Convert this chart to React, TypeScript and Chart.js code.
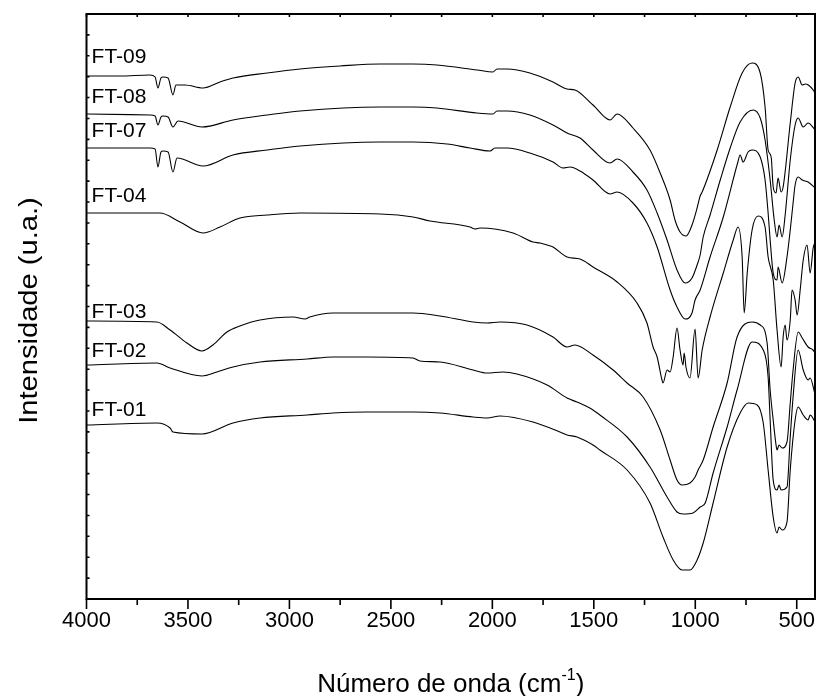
import React, { useEffect, useRef } from 'react';
import { Chart, registerables } from 'chart.js';

Chart.register(...registerables);

// [wavenumber (cm-1), intensity (u.a.)]
const ft09 = [[4000,523],[3835,523],[3687,524],[3662,522],[3648,511],[3633,521],[3623,522],[3598,521],[3574,504],[3559,514],[3515,514],[3426,511],[3342,517],[3278,521],[3110,526],[2948,530],[2751,533],[2553,535],[2391,535],[2273,534],[2076,529],[1997,527],[1977,530],[1928,530],[1815,526],[1701,517],[1632,510],[1593,509],[1504,494],[1420,479],[1385,485],[1307,471],[1223,449],[1173,426],[1124,399],[1100,379],[1075,367],[1045,363],[1016,374],[991,391],[976,403],[966,407],[892,449],[828,492],[769,526],[720,536],[680,526],[656,492],[641,449],[626,442],[616,412],[602,406],[592,421],[577,407],[567,412],[532,476],[508,516],[493,522],[473,514],[458,515],[443,514],[419,509],[410,506]];
const ft08 = [[4000,485],[3687,484],[3662,483],[3648,474],[3633,482],[3623,483],[3598,482],[3574,472],[3549,478],[3431,472],[3278,479],[3110,484],[2948,488],[2553,492],[2391,492],[2273,491],[2076,486],[1997,485],[1977,488],[1928,488],[1815,484],[1701,474],[1632,466],[1568,461],[1504,449],[1420,436],[1385,440],[1307,427],[1238,409],[1188,386],[1139,359],[1090,329],[1050,316],[1016,321],[991,334],[976,344],[961,362],[927,384],[877,419],[828,451],[779,477],[715,489],[680,481],[656,459],[631,419],[611,379],[597,362],[587,374],[572,362],[557,384],[532,439],[508,474],[493,481],[468,472],[444,476],[409,469]];
const ft07 = [[4000,451],[3687,451],[3662,450],[3648,432],[3633,447],[3623,448],[3598,447],[3574,427],[3554,441],[3426,433],[3278,444],[3110,449],[2948,453],[2553,457],[2391,457],[2223,455],[2110,451],[2011,448],[1987,451],[1928,451],[1815,446],[1701,437],[1652,431],[1617,432],[1568,428],[1504,419],[1420,405],[1385,407],[1307,396],[1238,376],[1188,352],[1124,309],[1090,292],[1050,280],[1016,286],[1001,299],[976,309],[927,342],[862,382],[790,437],[779,444],[764,437],[740,447],[720,449],[680,442],[656,419],[641,386],[631,359],[616,326],[597,319],[592,332],[572,316],[548,342],[532,369],[518,396],[508,414],[493,422],[473,419],[444,417],[409,411]];
const ft04 = [[4000,386],[3638,386],[3539,377],[3426,366],[3342,372],[3244,381],[3110,384],[2948,386],[2553,385],[2391,382],[2307,378],[2110,372],[2085,370],[2061,371],[1898,366],[1800,357],[1765,356],[1730,354],[1701,352],[1632,342],[1568,340],[1504,332],[1385,317],[1287,296],[1238,276],[1208,252],[1188,242],[1164,219],[1159,216],[1139,229],[1124,227],[1109,242],[1090,271],[1075,249],[1060,234],[1055,246],[1045,231],[1026,221],[1001,270],[986,221],[966,249],[927,282],[862,326],[813,359],[789,372],[769,342],[759,286],[744,326],[720,369],[690,383],[656,372],[641,342],[616,319],[597,269],[577,232],[567,262],[557,274],[548,259],[532,279],[523,309],[508,299],[498,284],[483,309],[468,339],[449,354],[434,326],[419,351],[409,357]];
const ft03 = [[4000,278],[3653,277],[3588,269],[3505,256],[3431,248],[3377,254],[3308,267],[3244,273],[3145,279],[2982,282],[2923,280],[2900,282],[2785,286],[2618,286],[2391,286],[2258,283],[2095,277],[2026,276],[1962,277],[1829,274],[1701,262],[1632,252],[1593,254],[1504,244],[1405,229],[1336,216],[1257,202],[1173,169],[1124,139],[1090,119],[1065,114],[1026,116],[1001,122],[986,129],[961,139],[912,172],[843,216],[794,262],[720,277],[680,274],[646,256],[631,209],[616,179],[602,154],[597,149],[587,154],[572,151],[548,157],[532,196],[518,229],[493,267],[473,261],[444,252],[420,249],[409,246]];
const ft02 = [[4000,234],[3653,236],[3588,231],[3431,223],[3357,227],[3278,232],[3145,237],[2913,240],[2785,242],[2618,242],[2391,241],[2357,238],[2258,237],[2095,229],[2026,226],[1948,227],[1879,225],[1730,214],[1632,201],[1583,197],[1504,189],[1470,184],[1336,162],[1223,132],[1139,102],[1090,87],[1060,85],[1011,86],[976,92],[951,96],[912,126],[843,172],[794,209],[720,257],[665,249],[641,222],[631,179],[616,119],[597,109],[587,114],[577,109],[548,112],[532,162],[518,202],[493,249],[468,229],[444,219],[434,221],[409,204]];
const ft01 = [[4000,174],[3653,176],[3588,171],[3574,167],[3431,165],[3278,176],[3145,181],[2913,184],[2785,186],[2618,187],[2391,187],[2258,186],[2095,182],[2026,181],[1962,183],[1800,177],[1667,167],[1632,164],[1583,162],[1504,154],[1470,149],[1336,129],[1223,96],[1159,62],[1109,39],[1065,29],[1026,29],[991,39],[961,56],[912,96],[843,152],[779,186],[739,196],[695,194],[665,176],[641,129],[616,82],[597,66],[587,72],[572,69],[548,77],[532,129],[508,179],[493,192],[468,184],[444,179],[434,184],[409,177]];

const seriesNames = ['FT-09', 'FT-08', 'FT-07', 'FT-04', 'FT-03', 'FT-02', 'FT-01'];
const seriesData = [ft09, ft08, ft07, ft04, ft03, ft02, ft01];
const labelLevels = [542, 502, 468, 403, 287, 248, 189];
const labelWavenumber = 3975;

const xMajorTicks = [4000, 3500, 3000, 2500, 2000, 1500, 1000, 500];
const xMinorTicks = [3750, 3250, 2750, 2250, 1750, 1250, 750];
const X_MIN = 410;
const X_MAX = 4000;
const Y_MIN = 0;
const Y_MAX = 585;
const Y_TICK_DIVISIONS = 28;

const xTitle = 'Número de onda (cm';
const xTitleSup = '-1';
const xTitleEnd = ')';
const yTitle = 'Intensidade (u.a.)';

const FONT = '"Liberation Sans", Arial, Helvetica, sans-serif';

export default function App() {
  const ref = useRef<HTMLCanvasElement>(null);

  useEffect(() => {
    const canvas = ref.current;
    if (!canvas) return;

    const framePlugin = {
      id: 'ftirFrame',
      afterDraw(chart: any) {
        const { ctx, chartArea: a } = chart;
        const xs = chart.scales.x;
        const ys = chart.scales.y;
        ctx.save();
        ctx.strokeStyle = '#000';
        ctx.lineWidth = 1.6;
        ctx.beginPath();
        xMajorTicks.forEach((v) => {
          const p = xs.getPixelForValue(v);
          ctx.moveTo(p, a.bottom);
          ctx.lineTo(p, a.bottom + 10);
          ctx.moveTo(p, a.top);
          ctx.lineTo(p, a.top + 3);
        });
        xMinorTicks.forEach((v) => {
          const p = xs.getPixelForValue(v);
          ctx.moveTo(p, a.bottom);
          ctx.lineTo(p, a.bottom + 6);
          ctx.moveTo(p, a.top);
          ctx.lineTo(p, a.top + 3);
        });
        for (let i = 1; i < Y_TICK_DIVISIONS; i++) {
          const p = ys.getPixelForValue(Y_MIN + ((Y_MAX - Y_MIN) * i) / Y_TICK_DIVISIONS);
          ctx.moveTo(a.left, p);
          ctx.lineTo(a.left + 3, p);
        }
        ctx.stroke();
        ctx.lineWidth = 2;
        ctx.strokeRect(a.left, a.top, a.right - a.left, a.bottom - a.top);

        ctx.fillStyle = '#000';
        ctx.font = `21px ${FONT}`;
        ctx.textAlign = 'left';
        ctx.textBaseline = 'middle';
        seriesNames.forEach((n, i) => {
          ctx.fillText(n, xs.getPixelForValue(labelWavenumber), ys.getPixelForValue(labelLevels[i]));
        });

        // y title
        ctx.save();
        ctx.translate(30, (a.top + a.bottom) / 2 + 4);
        ctx.rotate(-Math.PI / 2);
        ctx.scale(1.12, 1);
        ctx.font = `26px ${FONT}`;
        ctx.textAlign = 'center';
        ctx.textBaseline = 'middle';
        ctx.fillText(yTitle, 0, 0);
        ctx.restore();

        // x title with superscript
        ctx.font = `26px ${FONT}`;
        const w1 = ctx.measureText(xTitle).width;
        const w3 = ctx.measureText(xTitleEnd).width;
        ctx.font = `16px ${FONT}`;
        const w2 = ctx.measureText(xTitleSup).width;
        const total = w1 + w2 + w3;
        const cx = (a.left + a.right) / 2;
        let x0 = cx - total / 2;
        const base = 692;
        ctx.textAlign = 'left';
        ctx.textBaseline = 'alphabetic';
        ctx.font = `26px ${FONT}`;
        ctx.fillText(xTitle, x0, base);
        x0 += w1;
        ctx.font = `16px ${FONT}`;
        ctx.fillText(xTitleSup, x0, base - 12);
        x0 += w2;
        ctx.font = `26px ${FONT}`;
        ctx.fillText(xTitleEnd, x0, base);
        ctx.restore();
      },
    };

    const chart = new Chart(canvas, {
      type: 'line',
      data: {
        datasets: seriesNames.map((name, i) => ({
          label: name,
          data: seriesData[i].map(([x, y]) => ({ x, y })),
          borderColor: '#000',
          borderWidth: 1.1,
          pointRadius: 0,
          cubicInterpolationMode: 'monotone',
          fill: false,
        })),
      },
      options: {
        responsive: false,
        animation: false,
        devicePixelRatio: 1,
        layout: { padding: { left: 86.5, top: 14, right: 2, bottom: 0 } },
        plugins: { legend: { display: false }, tooltip: { enabled: false } },
        scales: {
          x: {
            type: 'linear',
            reverse: true,
            min: X_MIN,
            max: X_MAX,
            afterBuildTicks: (s: any) => {
              s.ticks = [...xMajorTicks, ...xMinorTicks].sort((p, q) => q - p).map((v) => ({ value: v }));
            },
            afterFit: (s: any) => {
              s.height = 97;
              s.paddingLeft = 0;
              s.paddingRight = 0;
            },
            grid: { display: false, drawTicks: false },
            border: { display: false },
            ticks: {
              autoSkip: false,
              maxRotation: 0,
              padding: 9,
              color: '#000',
              font: { family: FONT, size: 22 },
              callback: (v: any) => (xMajorTicks.includes(Number(v)) ? String(v) : ''),
            },
          },
          y: { type: 'linear', display: false, min: Y_MIN, max: Y_MAX },
        },
      } as any,
      plugins: [framePlugin],
    });
    return () => chart.destroy();
  }, []);

  return (
    <div style={{ position: 'absolute', left: 0, top: 0, width: 817, height: 696 }}>
      <canvas ref={ref} width={817} height={696} style={{ display: 'block' }} />
    </div>
  );
}
